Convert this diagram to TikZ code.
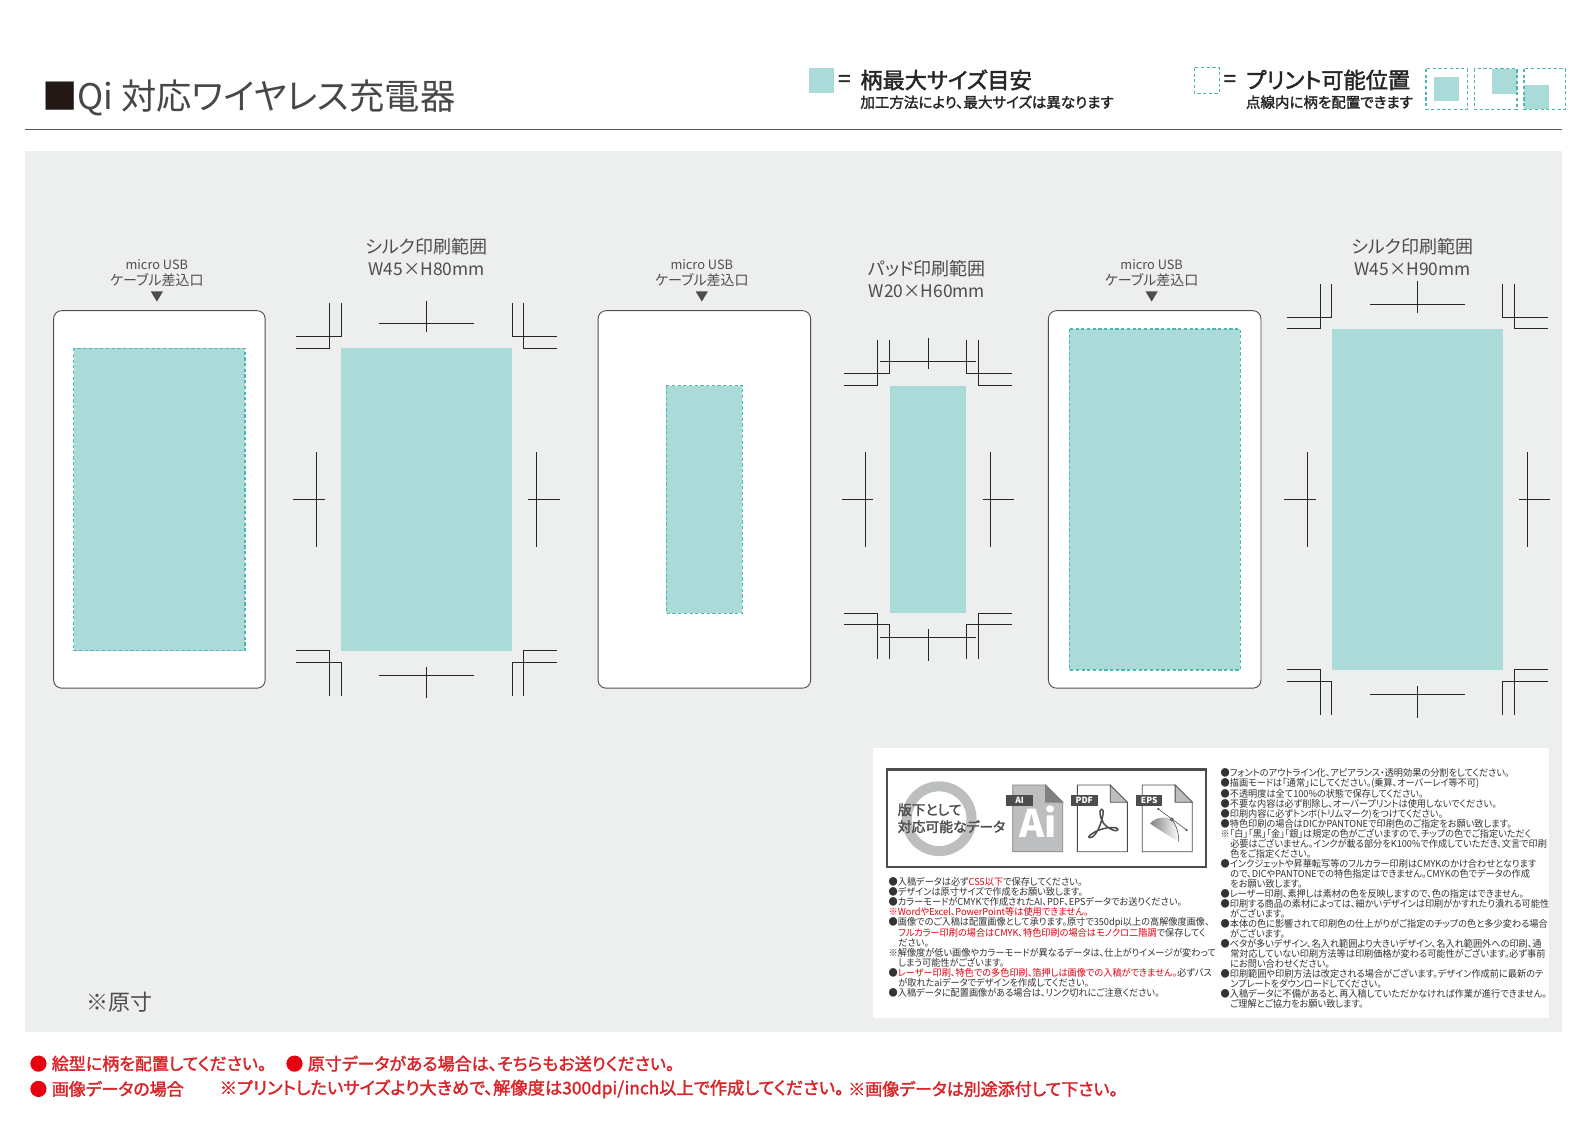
\documentclass[tikz,border=0pt]{standalone}
\usepackage{fontspec}
\setmainfont{Noto Sans CJK JP}[RawFeature=+palt]
\newfontfamily\midfont{Noto Sans CJK JP}[RawFeature=+palt,FakeBold=2]
\newfontfamily\notefont{Noto Sans CJK JP}[RawFeature=+palt,FakeStretch=0.955]
\definecolor{panelgray}{HTML}{EDEFEE}
\definecolor{areateal}{HTML}{AADBD9}
\definecolor{dashteal}{HTML}{4DB8B1}
\definecolor{inkgray}{HTML}{4D4D4D}
\definecolor{notered}{HTML}{E60012}
\definecolor{noteink}{HTML}{D9252A}
\definecolor{filegray}{HTML}{BCBEC0}
\begin{document}
\begin{tikzpicture}[x=1.012pt,y=-1.012pt]
    \tikzset{
        areabox/.style={fill=areateal},
        dashbox/.style={draw=dashteal,line width=1.2pt,dash pattern=on 3.2pt off 2.5pt},
        productbox/.style={fill=white,draw=inkgray,line width=0.9pt,rounded corners=8pt},
        trimline/.style={line width=0.9pt,black!85},
        smalllabel/.style={text=inkgray,font=\fontsize{14}{16.5}\selectfont,align=center,inner sep=0pt},
        rangelabel/.style={text=inkgray,font=\fontsize{18}{22.5}\selectfont,align=center,inner sep=0pt},
        headlabel/.style={anchor=west,inner sep=0pt,text=black!85,font=\midfont\fontsize{22.2}{26}\selectfont},
        sublabel/.style={anchor=west,inner sep=0pt,text=black!85,font=\midfont\fontsize{14.5}{16}\selectfont},
        notelabel/.style={anchor=west,inner sep=0pt,text=noteink,font=\midfont\fontsize{17}{20}\selectfont},
        noteblock/.style={anchor=north west,inner sep=0pt,align=left,text=black!80,font=\notefont\fontsize{9.6}{9.98}\selectfont},
        filetag/.style={fill=inkgray,text=white,inner sep=0pt,minimum width=26.5,minimum height=10.5,font=\bfseries\fontsize{8.5}{9}\selectfont},
    }
    \useasboundingbox (0,0) rectangle (1568.2,1108.7);
    \def\mycorner{(-44.7,-11.5) -- (0,-11.5) -- (0,-44.7) (-44.7,0) -- (-11.5,0) -- (-11.5,-44.7)}
    \newcommand\trimmarks[4]{
        \pgfmathsetmacro\cx{(#1+#3)/2}
        \pgfmathsetmacro\cy{(#2+#4)/2}
        \foreach \px/\py/\sx/\sy in {#1/#2/1/1,#3/#2/-1/1,#1/#4/1/-1,#3/#4/-1/-1}{
            \begin{scope}[shift={(\px,\py)},xscale=\sx,yscale=\sy]
                \draw [trimline] \mycorner;
            \end{scope}
        }
        \draw [trimline] (\cx-47,#2-24) -- (\cx+47,#2-24) (\cx,#2-47) -- (\cx,#2-16);
        \draw [trimline] (\cx-47,#4+24) -- (\cx+47,#4+24) (\cx,#4+16) -- (\cx,#4+47);
        \draw [trimline] (#1-24,\cy-47) -- (#1-24,\cy+47) (#1-47,\cy) -- (#1-16,\cy);
        \draw [trimline] (#3+24,\cy-47) -- (#3+24,\cy+47) (#3+16,\cy) -- (#3+47,\cy);
    }
    \newcommand\cablelabel[2]{
        \node [smalllabel] (#2) at (#1,270) {{\fontsize{12.8}{16.5}\selectfont micro USB}\\ケーブル差込口};
        \fill [inkgray] (#1-6,288) -- (#1+6,288) -- (#1,298) -- cycle;
    }
    \newcommand\docfile[6]{
        \begin{scope}[shift={(#1,775.7)}]
            \draw [fill=#3,draw=#5,line width=0.8pt] (0,0) -- (32.4,0) -- (49.4,17) -- (49.4,66) -- (0,66) -- cycle;
            \draw [fill=#4,draw=#5,line width=0.8pt] (32.4,0) -- (32.4,17) -- (49.4,17) -- cycle;
            \node [filetag] (#6) at (6.8,15.3) {#2};
        \end{scope}
    }

    % title
    \node [anchor=west,inner sep=0pt,text=black!72,font=\fontsize{35.3}{38}\selectfont] (title) at (41.5,97) {\textcolor[HTML]{231815}{■}Qi 対応ワイヤレス充電器};
    \draw [black!65,line width=1pt] (25,128) -- (1543,128);

    % legend
    \fill [areabox] (799,67) rectangle (824,92);
    \node [headlabel] (maxeq) at (828,80) {=};
    \node [headlabel] (maxsize) at (850,79) {柄最大サイズ目安};
    \node [sublabel] (maxnote) at (850,101) {加工方法により、最大サイズは異なります};
    \draw [dashbox] (1180,67) rectangle (1205,92);
    \node [headlabel] (printeq) at (1209,80) {=};
    \node [headlabel] (printpos) at (1231,79) {プリント可能位置};
    \node [sublabel] (posnote) at (1231,101) {点線内に柄を配置できます};
    \fill [areabox] (1417,76) rectangle (1442,100);
    \fill [areabox] (1474,68) rectangle (1499,93);
    \fill [areabox] (1506,84) rectangle (1531,108);
    \draw [dashbox] (1409,68) rectangle (1450,108);
    \draw [dashbox] (1457,68) rectangle (1499,108);
    \draw [dashbox] (1506,68) rectangle (1547,108);

    % gray panel
    \fill [panelgray] (25,149) rectangle (1543,1020);
    \fill [white] (863,739) rectangle (1531,1006);

    % products
    \draw [productbox] (53,307) rectangle (262,680);
    \draw [productbox] (591,307) rectangle (801,680);
    \draw [productbox] (1036,307) rectangle (1246,680);
    \fill [areabox] (73,344) rectangle (242,643);
    \draw [dashbox] (73,344) rectangle (242,643);
    \fill [areabox] (658.5,381) rectangle (733.5,606);
    \draw [dashbox] (658.5,381) rectangle (733.5,606);
    \fill [areabox] (1056.5,325) rectangle (1225.5,662);
    \draw [dashbox] (1056.5,325) rectangle (1225.5,662);
    \cablelabel{155}{cableA}
    \cablelabel{693.5}{cableB}
    \cablelabel{1138}{cableC}

    % print ranges
    \def\sizefont{\fontsize{17.4}{22}\selectfont}
    \fill [areabox] (337,344) rectangle (506,643);
    \trimmarks{337}{344}{506}{643}
    \node [rangelabel] (silkA) at (421.5,254) {シルク印刷範囲\\{\sizefont W45×H80mm}};
    \fill [areabox] (879,381) rectangle (955,606);
    \trimmarks{879}{381}{955}{606}
    \node [rangelabel] (pad) at (916,275.5) {パッド印刷範囲\\{\sizefont W20×H60mm}};
    \fill [areabox] (1316,325) rectangle (1485,662);
    \trimmarks{1316}{325}{1485}{662}
    \node [rangelabel] (silkB) at (1396,254) {シルク印刷範囲\\{\sizefont W45×H90mm}};

    \node [anchor=west,inner sep=0pt,text=inkgray,font=\fontsize{22}{24}\selectfont] (actual) at (85,990) {※原寸};

    % data frame
    \draw [inkgray,line width=2.4pt,fill=white] (876.5,760.5) rectangle (1191.5,856.5);
    \draw [filegray,line width=10pt] (928,809) circle (32);
    \node [anchor=west,inner sep=0pt,align=left,text=inkgray,font=\midfont\fontsize{13.8}{17}\selectfont] (datalabel) at (887,808.5) {版下として\\対応可能なデータ};
    \docfile{1000.7}{AI}{filegray}{black!50}{black!50}{tagAi}
    \docfile{1064.6}{PDF}{white}{filegray}{inkgray}{tagPdf}
    \docfile{1128.8}{EPS}{white}{filegray}{inkgray}{tagEps}
    \node [text=white,inner sep=0pt,font=\bfseries\fontsize{38}{40}\selectfont] (bigAi) at (1026,812) {Ai};
    \begin{scope}[shift={(1064.6,775.7)}]
        \draw [inkgray,line width=1.5pt] (24,24) .. controls (21,24) and (22,32) .. (26,38) .. controls (31,44) and (40,47) .. (40,44) .. controls (40,41) and (28,41) .. (18,46) .. controls (12,49) and (10,52) .. (12,52) .. controls (15,53) and (20,47) .. (23,38) .. controls (25,32) and (27,24) .. (24,24) -- cycle;
    \end{scope}
    \begin{scope}[shift={(1128.8,775.7)}]
        \shade [left color=black!50,right color=white] (7.6,38) .. controls (14,31) and (24,31) .. (29,34) .. controls (34,40) and (36,48) .. (36,56) .. controls (26,50) and (16,44) .. (7.6,38) -- cycle;
        \draw [inkgray,line width=0.6pt] (29,34) .. controls (34,40) and (36,48) .. (36,56);
        \draw [inkgray,line width=0.6pt] (15.8,23.7) -- (43.8,44.5);
        \fill [inkgray] (15.8,23.7) circle (1.2) (43.8,44.5) circle (1.2);
        \draw [inkgray,line width=0.6pt] (29,34) circle (1.6);
    \end{scope}

    % notes
    \def\ind{\hspace*{9.6pt}}
    \def\rt#1{\textcolor{notered}{#1}}
    \node [noteblock] (notesA) at (878,866.5) {●入稿データは必ず\rt{CS5以下}で保存してください。\\
        ●デザインは原寸サイズで作成をお願い致します。\\
        ●カラーモードがCMYKで作成されたAI、PDF、EPSデータでお送りください。\\
        \rt{※WordやExcel、PowerPoint等は使用できません。}\\
        ●画像でのご入稿は配置画像として承ります。原寸で350dpi以上の高解像度画像、\\
        \ind\rt{フルカラー印刷の場合はCMYK、特色印刷の場合はモノクロ二階調}で保存してく\\
        \ind ださい。\\
        ※解像度が低い画像やカラーモードが異なるデータは、仕上がりイメージが変わって\\
        \ind しまう可能性がございます。\\
        ●\rt{レーザー印刷、特色での多色印刷、箔押しは画像での入稿ができません。}必ずパス\\
        \ind が取れたaiデータでデザインを作成してください。\\
        ●入稿データに配置画像がある場合は、リンク切れにご注意ください。};
    \node [noteblock] (notesB) at (1206,759.5) {●フォントのアウトライン化、アピアランス・透明効果の分割をしてください。\\
        ●描画モードは「通常」にしてください。(乗算、オーバーレイ等不可)\\
        ●不透明度は全て100\%の状態で保存してください。\\
        ●不要な内容は必ず削除し、オーバープリントは使用しないでください。\\
        ●印刷内容に必ずトンボ(トリムマーク)をつけてください。\\
        ●特色印刷の場合はDICかPANTONEで印刷色のご指定をお願い致します。\\
        ※「白」「黒」「金」「銀」は規定の色がございますので、チップの色でご指定いただく\\
        \ind 必要はございません。インクが載る部分をK100\%で作成していただき、文言で印刷\\
        \ind 色をご指定ください。\\
        ●インクジェットや昇華転写等のフルカラー印刷はCMYKのかけ合わせとなります\\
        \ind ので、DICやPANTONEでの特色指定はできません。CMYKの色でデータの作成\\
        \ind をお願い致します。\\
        ●レーザー印刷、素押しは素材の色を反映しますので、色の指定はできません。\\
        ●印刷する商品の素材によっては、細かいデザインは印刷がかすれたり潰れる可能性\\
        \ind がございます。\\
        ●本体の色に影響されて印刷色の仕上がりがご指定のチップの色と多少変わる場合\\
        \ind がございます。\\
        ●ベタが多いデザイン、名入れ範囲より大きいデザイン、名入れ範囲外への印刷、通\\
        \ind 常対応していない印刷方法等は印刷価格が変わる可能性がございます。必ず事前\\
        \ind にお問い合わせください。\\
        ●印刷範囲や印刷方法は改定される場合がございます。デザイン作成前に最新のテ\\
        \ind ンプレートをダウンロードしてください。\\
        ●入稿データに不備があると、再入稿していただかなければ作業が進行できません。\\
        \ind ご理解とご協力をお願い致します。};

    % red notes
    \fill [notered] (38,1051) circle (8);
    \node [notelabel] (noteA) at (51,1051) {絵型に柄を配置してください。};
    \fill [notered] (291,1051) circle (8);
    \node [notelabel] (noteB) at (304,1051) {原寸データがある場合は、そちらもお送りください。};
    \fill [notered] (38,1076) circle (8);
    \node [notelabel] (noteC) at (51,1076) {画像データの場合};
    \node [notelabel,font=\midfont\fontsize{17.3}{20}\selectfont] (noteD) at (217,1076) {※プリントしたいサイズより大きめで、解像度は300dpi/inch以上で作成してください。};
    \node [notelabel] (noteE) at (838,1076) {※画像データは別途添付して下さい。};
\end{tikzpicture}
\end{document}
